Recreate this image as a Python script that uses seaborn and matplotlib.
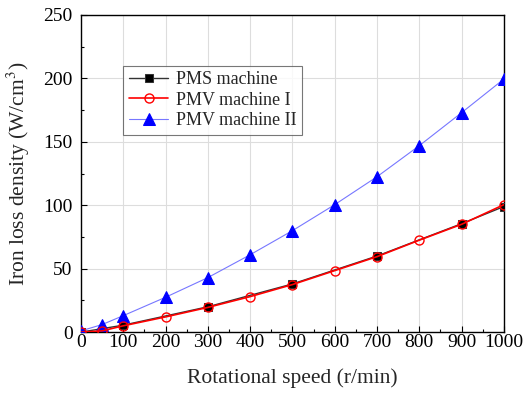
import matplotlib
matplotlib.use("Agg")
import matplotlib.pyplot as plt
from matplotlib.ticker import MultipleLocator
import seaborn as sns
import pandas as pd

speed_pms = [0, 100, 300, 500, 700, 900, 1000]
loss_pms = [0, 5.5, 20, 38, 60, 85.5, 99]

speed_pmv1 = [0, 50, 100, 200, 300, 400, 500, 600, 700, 800, 900, 1000]
loss_pmv1 = [0, 1, 5, 12, 19.5, 28, 37.5, 48.5, 59.5, 72.5, 85, 100.5]

speed_pmv2 = [0, 50, 100, 200, 300, 400, 500, 600, 700, 800, 900, 1000]
loss_pmv2 = [1, 6, 13, 27.5, 43, 61, 80, 100.5, 122.5, 147, 173, 199.5]

labels = ["PMS machine", "PMV machine I", "PMV machine II"]

sns.set_theme(style="ticks")
plt.rcParams['font.family'] = ['Liberation Serif', 'DejaVu Serif']
plt.rcParams['mathtext.fontset'] = 'stix'

fig = plt.figure(figsize=(5.26, 3.94), dpi=100)
ax = fig.add_axes([0.154, 0.157, 0.804, 0.805])

df1 = pd.DataFrame({"x": speed_pms, "y": loss_pms})
df2 = pd.DataFrame({"x": speed_pmv1, "y": loss_pmv1})
df3 = pd.DataFrame({"x": speed_pmv2, "y": loss_pmv2})

sns.lineplot(data=df1, x="x", y="y", ax=ax, color="#333333", lw=1.0, marker="s",
             markersize=6, markerfacecolor="black", markeredgecolor="#333333",
             label=labels[0], zorder=3)
sns.lineplot(data=df2, x="x", y="y", ax=ax, color="red", lw=1.2, marker="o",
             markersize=6.5, markerfacecolor="none", markeredgecolor="red",
             markeredgewidth=1.0, label=labels[1], zorder=4)
sns.lineplot(data=df3, x="x", y="y", ax=ax, color="#7777ff", lw=0.8, marker="^",
             markersize=8, markerfacecolor="blue", markeredgecolor="blue",
             label=labels[2], zorder=3)

ax.set_xlim(0, 1000)
ax.set_ylim(0, 250)
ax.xaxis.set_major_locator(MultipleLocator(100))
ax.xaxis.set_minor_locator(MultipleLocator(50))
ax.yaxis.set_major_locator(MultipleLocator(50))
ax.yaxis.set_minor_locator(MultipleLocator(25))
ax.tick_params(which="both", direction="in", colors="black", labelsize=14)
ax.tick_params(which="major", length=4, width=0.8)
ax.tick_params(which="minor", length=2.5, width=0.8)
ax.tick_params(axis="x", which="major", pad=1.5)
ax.tick_params(axis="y", which="major", pad=6)
ax.grid(True, which="major", color="#dddddd", lw=0.8)
ax.set_axisbelow(True)
for s in ax.spines.values():
    s.set_color("black")
    s.set_linewidth(1.0)

ax.set_xlabel("Rotational speed (r/min)", fontsize=15.5, labelpad=12)
ax.set_ylabel("Iron loss density (W/cm$^{3}$)", fontsize=15.5, labelpad=8)

leg = ax.legend(loc="upper left", bbox_to_anchor=(0.1, 0.84), fontsize=13,
                frameon=True, fancybox=False, edgecolor="#555555",
                borderpad=0.3, labelspacing=0.2, handlelength=2.2,
                handletextpad=0.4, borderaxespad=0)
leg.get_frame().set_linewidth(0.8)

fig.savefig("out.png", dpi=100)
